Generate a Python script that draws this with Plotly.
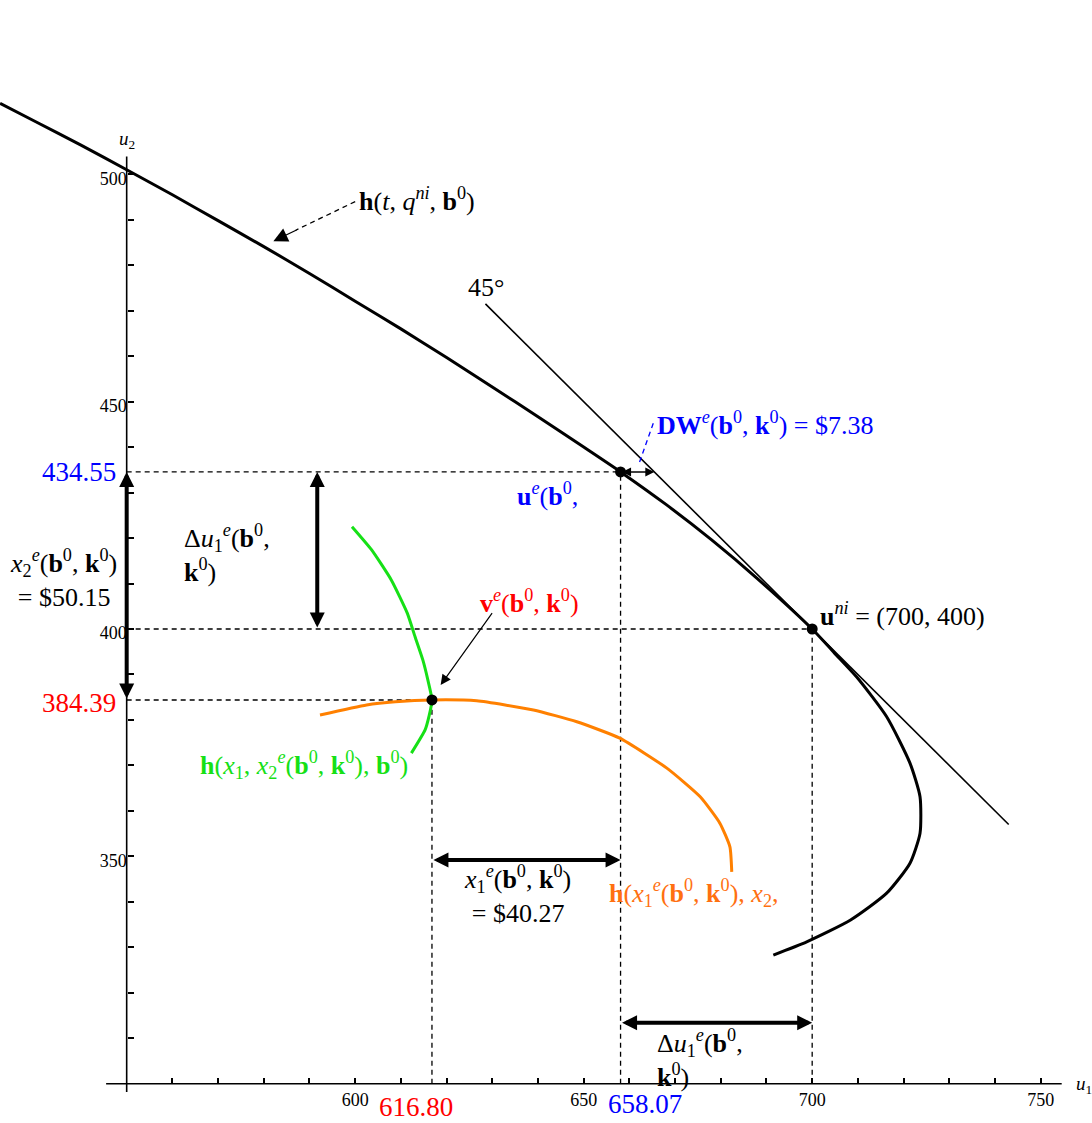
import plotly.graph_objects as go

# ---- data -------------------------------------------------------------
# Utility-possibility frontier h(t, q^ni, b^0)
frontier_u1 = [522.3, 530.0, 540.0, 550.0, 560.0, 570.0, 580.0, 590.0, 600.0, 610.0,
               620.0, 630.0, 640.0, 650.0, 658.07, 668.0, 678.0, 688.0, 700.0, 704.8,
               709.7, 716.3, 721.4, 723.6, 723.6, 721.4, 716.3, 708.4, 698.8, 691.5]
frontier_u2 = [515.6, 511.6, 506.4, 501.0, 495.5, 489.8, 484.1, 478.2, 472.1, 466.0,
               459.7, 453.2, 446.7, 440.0, 434.55, 427.4, 419.6, 411.1, 400.0, 394.8,
               389.5, 380.7, 370.5, 363.1, 355.1, 348.5, 341.9, 336.0, 331.2, 328.3]

# 45-degree line u1 + u2 = 1100 through u^ni
tangent_u1 = [628.5, 743.0]
tangent_u2 = [471.5, 357.0]

# h(x1, x2^e(b^0, k^0), b^0)
green_u1 = [599.3, 603.6, 607.9, 611.4, 613.1, 614.8, 615.9, 616.8, 616.2, 615.3, 612.3]
green_u2 = [422.5, 417.4, 410.8, 403.5, 398.3, 393.2, 388.8, 384.39, 381.0, 377.8, 372.7]

# h(x1^e(b^0, k^0), x2, ...)
orange_u1 = [592.3, 602.5, 608.8, 616.8, 626.6, 639.0, 648.5, 657.9, 668.2, 675.5,
             679.8, 682.0, 682.4]
orange_u2 = [381.1, 383.3, 384.0, 384.39, 384.2, 382.2, 379.6, 376.0, 369.4, 363.1,
             357.3, 352.1, 346.6]

# Key points
u_e = (658.07, 434.55)      # u^e(b^0, k^0)
u_ni = (700.0, 400.0)       # u^ni
v_e = (616.80, 384.39)      # v^e(b^0, k^0)
dw_value = 7.38             # DW^e(b^0, k^0)

# Axis ticks
x_tick_vals = [560, 570, 580, 590, 600, 610, 620, 630, 640, 650,
               660, 670, 680, 690, 700, 710, 720, 730, 740, 750]
x_tick_text = ["", "", "", "", "600", "", "", "", "", "650",
               "", "", "", "", "700", "", "", "", "", "750"]
y_tick_vals = [310, 320, 330, 340, 350, 360, 370, 380, 390, 400,
               410, 420, 430, 440, 450, 460, 470, 480, 490, 500]
y_tick_text = ["", "", "", "", "350", "", "", "", "", "400",
               "", "", "", "", "450", "", "", "", "", "500"]

# ---- styling ----------------------------------------------------------
FONT = "Liberation Serif"
BLUE = "#0000ff"
RED = "#ff0000"
GREEN = "#16e016"
ORANGE = "#ff8000"
ORANGE_TXT = "#ff7010"
X_RANGE = [522.28, 761.23]
Y_RANGE = [291.36, 538.33]
ORIGIN = (550, 300)
DASH = "5px,4px"

fig = go.Figure()

# dashed guide lines
guides = [
    ([ORIGIN[0], u_e[0]], [u_e[1], u_e[1]]),
    ([ORIGIN[0], u_ni[0]], [u_ni[1], u_ni[1]]),
    ([ORIGIN[0], v_e[0]], [v_e[1], v_e[1]]),
    ([v_e[0], v_e[0]], [ORIGIN[1], v_e[1]]),
    ([u_e[0], u_e[0]], [ORIGIN[1], u_e[1]]),
    ([u_ni[0], u_ni[0]], [ORIGIN[1], u_ni[1]]),
]
for gx, gy in guides:
    fig.add_trace(go.Scatter(x=gx, y=gy, mode="lines",
                             line=dict(color="black", width=1.3, dash=DASH),
                             hoverinfo="skip"))

# axes lines
fig.add_shape(type="line", xref="x", yref="y", x0=545.5, x1=754.6, y0=ORIGIN[1], y1=ORIGIN[1],
              line=dict(color="black", width=1.6))
fig.add_shape(type="line", xref="x", yref="y", x0=ORIGIN[0], x1=ORIGIN[0], y0=298.2, y1=503.9,
              line=dict(color="black", width=1.6))

# curves
fig.add_trace(go.Scatter(x=tangent_u1, y=tangent_u2, mode="lines",
                         line=dict(color="black", width=1.6)))
fig.add_trace(go.Scatter(x=frontier_u1, y=frontier_u2, mode="lines",
                         line=dict(color="black", width=3, shape="spline", smoothing=0.6)))
fig.add_trace(go.Scatter(x=green_u1, y=green_u2, mode="lines",
                         line=dict(color=GREEN, width=3, shape="spline", smoothing=0.5)))
fig.add_trace(go.Scatter(x=orange_u1, y=orange_u2, mode="lines",
                         line=dict(color=ORANGE, width=3, shape="spline", smoothing=0.5)))

# dashed leaders
fig.add_trace(go.Scatter(x=[600.0, 587.0], y=[494.0, 487.7], mode="lines",
                         line=dict(color="black", width=1.3, dash="5px,4px")))
fig.add_trace(go.Scatter(x=[665.23, 662.17], y=[445.24, 436.57], mode="lines",
                         line=dict(color=BLUE, width=1.3, dash="5px,4px")))

# key points
fig.add_trace(go.Scatter(x=[u_e[0], u_ni[0], v_e[0]], y=[u_e[1], u_ni[1], v_e[1]],
                         mode="markers", marker=dict(color="black", size=11)))


def arrow(x0, y0, x1, y1, width, size, both=True, color="black", head=2):
    fig.add_annotation(x=x1, y=y1, ax=x0, ay=y0, xref="x", yref="y", axref="x", ayref="y",
                       text="", showarrow=True, arrowhead=head, arrowsize=size,
                       arrowwidth=width, arrowcolor=color,
                       arrowside="end+start" if both else "end",
                       startarrowhead=head, startarrowsize=size,
                       standoff=0, startstandoff=0)


# thick measurement arrows
arrow(ORIGIN[0], v_e[1], ORIGIN[0], u_e[1], 4, 0.75)          # x2^e
arrow(591.7, u_ni[1], 591.7, u_e[1], 4, 0.75)                 # Δu vertical
arrow(v_e[0], 349.2, u_e[0], 349.2, 4, 0.75)                  # x1^e
arrow(u_e[0], 313.4, u_ni[0], 313.4, 4, 0.75)                 # Δu1 horizontal
# DW gap arrow
arrow(u_e[0], u_e[1], u_e[0] + dw_value, u_e[1], 1.5, 1.2)
# thin pointers
arrow(630.2, 403.8, 618.7, 387.7, 1.2, 1.7, both=False)
arrow(587.5, 487.9, 582.1, 485.3, 1.3, 2.2, both=False)


def label(x, y, text, color="black", size=26, xanchor="left", yanchor="middle", align="left"):
    fig.add_annotation(x=x, y=y, xref="x", yref="y", text=text, showarrow=False,
                       xanchor=xanchor, yanchor=yanchor, align=align,
                       font=dict(family=FONT, size=size, color=color))


b0 = "<b>b</b><sup>0</sup>"
k0 = "<b>k</b><sup>0</sup>"
sup_e = "<sup><i>e</i></sup>"

label(600.4, 494.35, f"<b>h</b>(<i>t</i>, <i>q</i><sup><i>ni</i></sup>, {b0})")
label(628.6, 475.2, "45°", xanchor="center")
label(665.6, 445.3, f"<b>DW</b>{sup_e}({b0}, {k0}) = $7.38", color=BLUE)
label(635.0, 429.5, f"<b>u</b>{sup_e}({b0},", color=BLUE)
label(701.3, 403.1, "<b>u</b><sup><i>ni</i></sup> = (700, 400)")
label(548.1, u_e[1], "434.55", color=BLUE, size=27, xanchor="right")
label(548.1, v_e[1] - 0.6, "384.39", color=RED, size=27, xanchor="right")
label(536.1, 411.0, f"<i>x</i><sub>2</sub>{sup_e}({b0}, {k0})<br>= $50.15",
      xanchor="center", align="center")
label(562.1, 416.7, f"Δ<i>u</i><sub>1</sub>{sup_e}({b0},<br>{k0})")
label(626.9, 406.0, f"<b>v</b>{sup_e}({b0}, {k0})", color=RED)
label(565.5, 370.1, f"<b>h</b>(<i>x</i><sub>1</sub>, <i>x</i><sub>2</sub>{sup_e}({b0}, {k0}), {b0})",
      color=GREEN)
label(635.6, 341.7, f"<i>x</i><sub>1</sub>{sup_e}({b0}, {k0})<br>= $40.27",
      xanchor="center", align="center")
label(655.1, 341.9, f"<b>h</b>(<i>x</i><sub>1</sub>{sup_e}({b0}, {k0}), <i>x</i><sub>2</sub>,",
      color=ORANGE_TXT)
label(665.6, 305.6, f"Δ<i>u</i><sub>1</sub>{sup_e}({b0},<br>{k0})")
label(613.3, 294.9, "616.80", color=RED, size=27, xanchor="center")
label(663.4, 295.5, "658.07", color=BLUE, size=27, xanchor="center")
label(757.2, 299.7, "<i>u</i><sub>1</sub>", size=19)
label(550.0, 507.5, "<i>u</i><sub>2</sub>", size=19, xanchor="center")

x_pos = (ORIGIN[1] - Y_RANGE[0]) / (Y_RANGE[1] - Y_RANGE[0])
y_pos = (ORIGIN[0] - X_RANGE[0]) / (X_RANGE[1] - X_RANGE[0])

fig.update_layout(
    width=1092, height=1123,
    margin=dict(l=0, r=0, t=0, b=0),
    paper_bgcolor="white", plot_bgcolor="white",
    showlegend=False,
    xaxis=dict(range=X_RANGE, anchor="free", position=x_pos, showgrid=False, zeroline=False,
               showline=False, ticks="inside", ticklen=6, tickwidth=1.5, tickcolor="black",
               tickvals=x_tick_vals, ticktext=x_tick_text, ticklabelstandoff=3,
               tickfont=dict(family=FONT, size=18, color="black")),
    yaxis=dict(range=Y_RANGE, anchor="free", position=y_pos, showgrid=False, zeroline=False,
               showline=False, ticks="inside", ticklen=6, tickwidth=1.5, tickcolor="black",
               tickvals=y_tick_vals, ticktext=y_tick_text, ticklabelshift=4,
               tickfont=dict(family=FONT, size=18, color="black")),
)

fig.write_html("out.html")
